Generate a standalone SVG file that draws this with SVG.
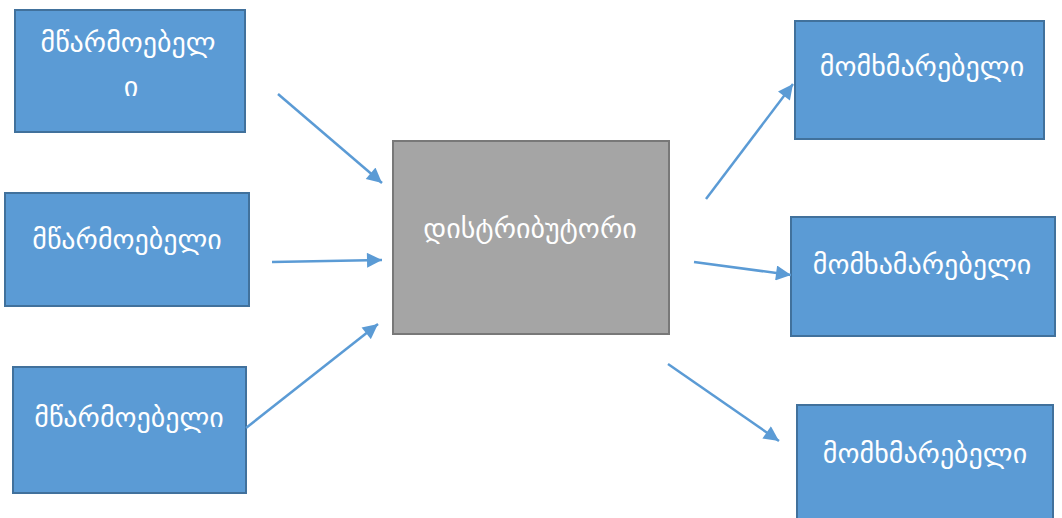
<svg xmlns="http://www.w3.org/2000/svg" width="1062" height="518" viewBox="0 0 1062 518">
  <style>
    .blue { fill: #5B9BD5; stroke: #41719C; stroke-width: 2; }
    .grey { fill: #A5A5A5; stroke: #787878; stroke-width: 2; }
    .lbl { font-family: "DejaVu Sans", sans-serif; font-size: 28px; fill: #FFFFFF; text-anchor: middle; }
    .conn { stroke: #5B9BD5; stroke-width: 2.5; fill: none; marker-end: url(#head); }
  </style>
  <defs>
    <marker id="head" viewBox="0 0 10 10" refX="10" refY="5" markerWidth="6.5" markerHeight="6" markerUnits="strokeWidth" orient="auto">
      <path d="M0,0 L10,5 L0,10 Z" fill="#5B9BD5"/>
    </marker>
  </defs>
  <rect width="1062" height="518" fill="#FFFFFF"/>

  <!-- producers -->
  <g id="producer-1">
    <rect class="blue" x="15" y="10" width="230" height="122"/>
    <text class="lbl" x="128" y="52">მწარმოებელ</text>
    <text class="lbl" x="131" y="96">ი</text>
  </g>
  <g id="producer-2">
    <rect class="blue" x="5" y="193" width="244" height="113"/>
    <text class="lbl" x="127" y="249">მწარმოებელი</text>
  </g>
  <g id="producer-3">
    <rect class="blue" x="13" y="367" width="233" height="126"/>
    <text class="lbl" x="129" y="427">მწარმოებელი</text>
  </g>

  <!-- distributor -->
  <g id="distributor">
    <rect class="grey" x="393" y="141" width="276" height="193"/>
    <text class="lbl" x="530" y="238">დისტრიბუტორი</text>
  </g>

  <!-- consumers -->
  <g id="consumer-1">
    <rect class="blue" x="795" y="21" width="249" height="118"/>
    <text class="lbl" x="922" y="76">მომხმარებელი</text>
  </g>
  <g id="consumer-2">
    <rect class="blue" x="791" y="217" width="264" height="119"/>
    <text class="lbl" x="922" y="274">მომხამარებელი</text>
  </g>
  <g id="consumer-3">
    <rect class="blue" x="797" y="405" width="256" height="120"/>
    <text class="lbl" x="925" y="463">მომხმარებელი</text>
  </g>

  <!-- connectors -->
  <g id="connectors">
    <line class="conn" x1="278" y1="94" x2="382" y2="183"/>
    <line class="conn" x1="272" y1="262" x2="382" y2="260"/>
    <line class="conn" x1="246" y1="428" x2="378" y2="324"/>
    <line class="conn" x1="706" y1="199" x2="793" y2="84"/>
    <line class="conn" x1="694" y1="262" x2="791" y2="275"/>
    <line class="conn" x1="668" y1="364" x2="779" y2="441"/>
  </g>
</svg>
